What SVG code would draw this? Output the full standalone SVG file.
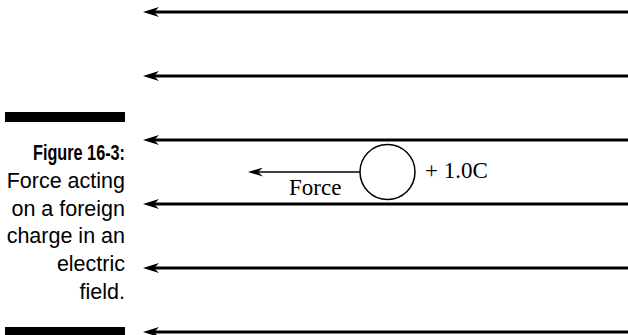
<svg xmlns="http://www.w3.org/2000/svg" width="628" height="335" viewBox="0 0 628 335">
<style>
.field{stroke:#000;stroke-width:3;fill:none}
.cap{font-family:"Liberation Sans",Arial,sans-serif;font-size:21.5px;fill:#000;text-anchor:end}
.lbl{font-family:"Liberation Serif","Times New Roman",serif;font-size:23px;fill:#000}
</style>
<defs>
<marker id="ah" markerWidth="16" markerHeight="10" refX="7" refY="5" orient="auto" markerUnits="userSpaceOnUse" viewBox="0 0 16 10">
<path d="M16,5 L0,0 L5,5 L0,10 Z" fill="#000"/>
</marker>
<marker id="ah2" markerWidth="15" markerHeight="9" refX="7" refY="4.5" orient="auto" markerUnits="userSpaceOnUse" viewBox="0 0 15 9">
<path d="M15,4.5 L0,0 L5,4.5 L0,9 Z" fill="#000"/>
</marker>
</defs>
<rect width="628" height="335" fill="#fff"/>
<g id="caption">
<rect x="5" y="112" width="120" height="10" fill="#000"/>
<rect x="5" y="327" width="120" height="8" fill="#000"/>
<text class="cap" x="125" y="160" font-weight="bold" font-size="23" textLength="92" lengthAdjust="spacingAndGlyphs">Figure 16-3:</text>
<text class="cap" x="125" y="188">Force acting</text>
<text class="cap" x="125" y="216">on a foreign</text>
<text class="cap" x="125" y="243">charge in an</text>
<text class="cap" x="125" y="271">electric</text>
<text class="cap" x="125" y="299">field.</text>
</g>
<g id="connectors">
<line class="field" x1="628" y1="12" x2="152" y2="12" marker-end="url(#ah)"/>
<line class="field" x1="628" y1="76" x2="152" y2="76" marker-end="url(#ah)"/>
<line class="field" x1="628" y1="140" x2="152" y2="140" marker-end="url(#ah)"/>
<line class="field" x1="628" y1="204" x2="152" y2="204" marker-end="url(#ah)"/>
<line class="field" x1="628" y1="268" x2="152" y2="268" marker-end="url(#ah)"/>
<line class="field" x1="628" y1="332" x2="152" y2="332" marker-end="url(#ah)"/>
<line x1="360" y1="172" x2="256" y2="172" stroke="#000" stroke-width="1.6" marker-end="url(#ah2)"/>
</g>
<g id="charge">
<circle cx="387.5" cy="172" r="27.5" fill="#fff" stroke="#000" stroke-width="1.5"/>
<text class="lbl" x="425" y="178">+ 1.0C</text>
</g>
<g id="force-label">
<text class="lbl" x="289" y="195">Force</text>
</g>
</svg>
